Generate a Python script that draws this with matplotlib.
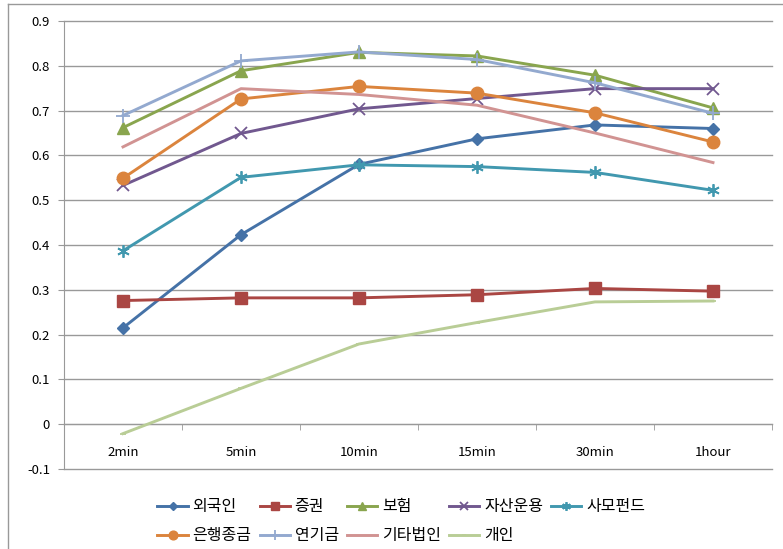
import matplotlib
matplotlib.use("Agg")
import matplotlib.pyplot as plt
from matplotlib.lines import Line2D

plt.rcParams['font.family'] = ['Noto Sans CJK KR', 'DejaVu Sans']

# 데이터
periods = ["2min", "5min", "10min", "15min", "30min", "1hour"]
foreigner = [0.215, 0.423, 0.580, 0.637, 0.668, 0.660]
securities = [0.276, 0.282, 0.282, 0.289, 0.303, 0.297]
insurance = [0.662, 0.789, 0.830, 0.822, 0.779, 0.706]
asset_mgmt = [0.533, 0.649, 0.704, 0.727, 0.749, 0.749]
private_fund = [0.387, 0.551, 0.579, 0.575, 0.562, 0.522]
bank = [0.549, 0.726, 0.754, 0.739, 0.695, 0.630]
pension = [0.689, 0.811, 0.831, 0.814, 0.762, 0.694]
other_corp = [0.619, 0.749, 0.736, 0.712, 0.650, 0.584]
individual = [-0.021, 0.080, 0.179, 0.227, 0.273, 0.275]

series = [
    ("외국인", foreigner, "#4572A7", "D", 6),
    ("증권", securities, "#AA4643", "s", 8),
    ("보험", insurance, "#89A54E", "^", 8),
    ("자산운용", asset_mgmt, "#71588F", "x", 8),
    ("사모펀드", private_fund, "#4198AF", (6, 2, 0), 9),
    ("은행종금", bank, "#DB843D", "o", 9),
    ("연기금", pension, "#93A9CF", "+", 10),
    ("기타법인", other_corp, "#D19392", "None", 0),
    ("개인", individual, "#B9CD96", "_", 5),
]

fig = plt.figure(figsize=(7.83, 5.49), dpi=100)
ax = fig.add_axes([64 / 783, 1 - 469 / 549, (772 - 64) / 783, (469 - 21) / 549])

x = list(range(len(periods)))
handles = []
for name, vals, color, marker, ms in series:
    ln, = ax.plot(x, vals, color=color, lw=2.1, marker=marker, markersize=ms,
                  markeredgewidth=1.3 if marker in ("x", "+", "_", (6, 2, 0)) else 1,
                  label=name, zorder=3)
    handles.append(ln)

ax.set_xlim(-0.5, len(periods) - 0.5)
ax.set_ylim(-0.1, 0.9)
ax.set_yticks([i / 10 for i in range(-1, 10)])
ax.set_yticklabels(["-0.1", "0", "0.1", "0.2", "0.3", "0.4", "0.5", "0.6", "0.7", "0.8", "0.9"])
ax.yaxis.grid(True, color="#999999", lw=1)
for gl in ax.get_ygridlines():
    gl.set_clip_on(False)
ax.set_axisbelow(True)

for s in ["top", "right"]:
    ax.spines[s].set_visible(False)
ax.spines["left"].set_color("#999999")
ax.spines["bottom"].set_position(("data", 0))
ax.spines["bottom"].set_color("#999999")
ax.tick_params(axis="y", length=4, color="#999999", labelsize=9.5, pad=6)

ax.set_xticks(x)
ax.set_xticklabels(periods)
ax.tick_params(axis="x", which="major", length=0, pad=16, labelsize=9.5)
ax.set_xticks([i + 0.5 for i in range(len(periods))], minor=True)
ax.tick_params(axis="x", which="minor", length=4, color="#999999", direction="out")

order = [0, 5, 1, 6, 2, 7, 3, 8, 4]
fig.legend([handles[i] for i in order], [series[i][0] for i in order],
           ncol=5, frameon=False, loc="upper left", bbox_to_anchor=(143 / 783, 1 - 484 / 549),
           fontsize=11.5, handlelength=1.9, handletextpad=0.3, columnspacing=0.5,
           labelspacing=0.75, markerscale=0.7)

# 바깥 테두리
fig.add_artist(Line2D([8 / 783, 1], [1 - 4 / 549, 1 - 4 / 549], color="#999999", lw=1))
fig.add_artist(Line2D([8 / 783, 8 / 783], [0, 1 - 4 / 549], color="#999999", lw=1))

fig.savefig("out.png", dpi=100)
